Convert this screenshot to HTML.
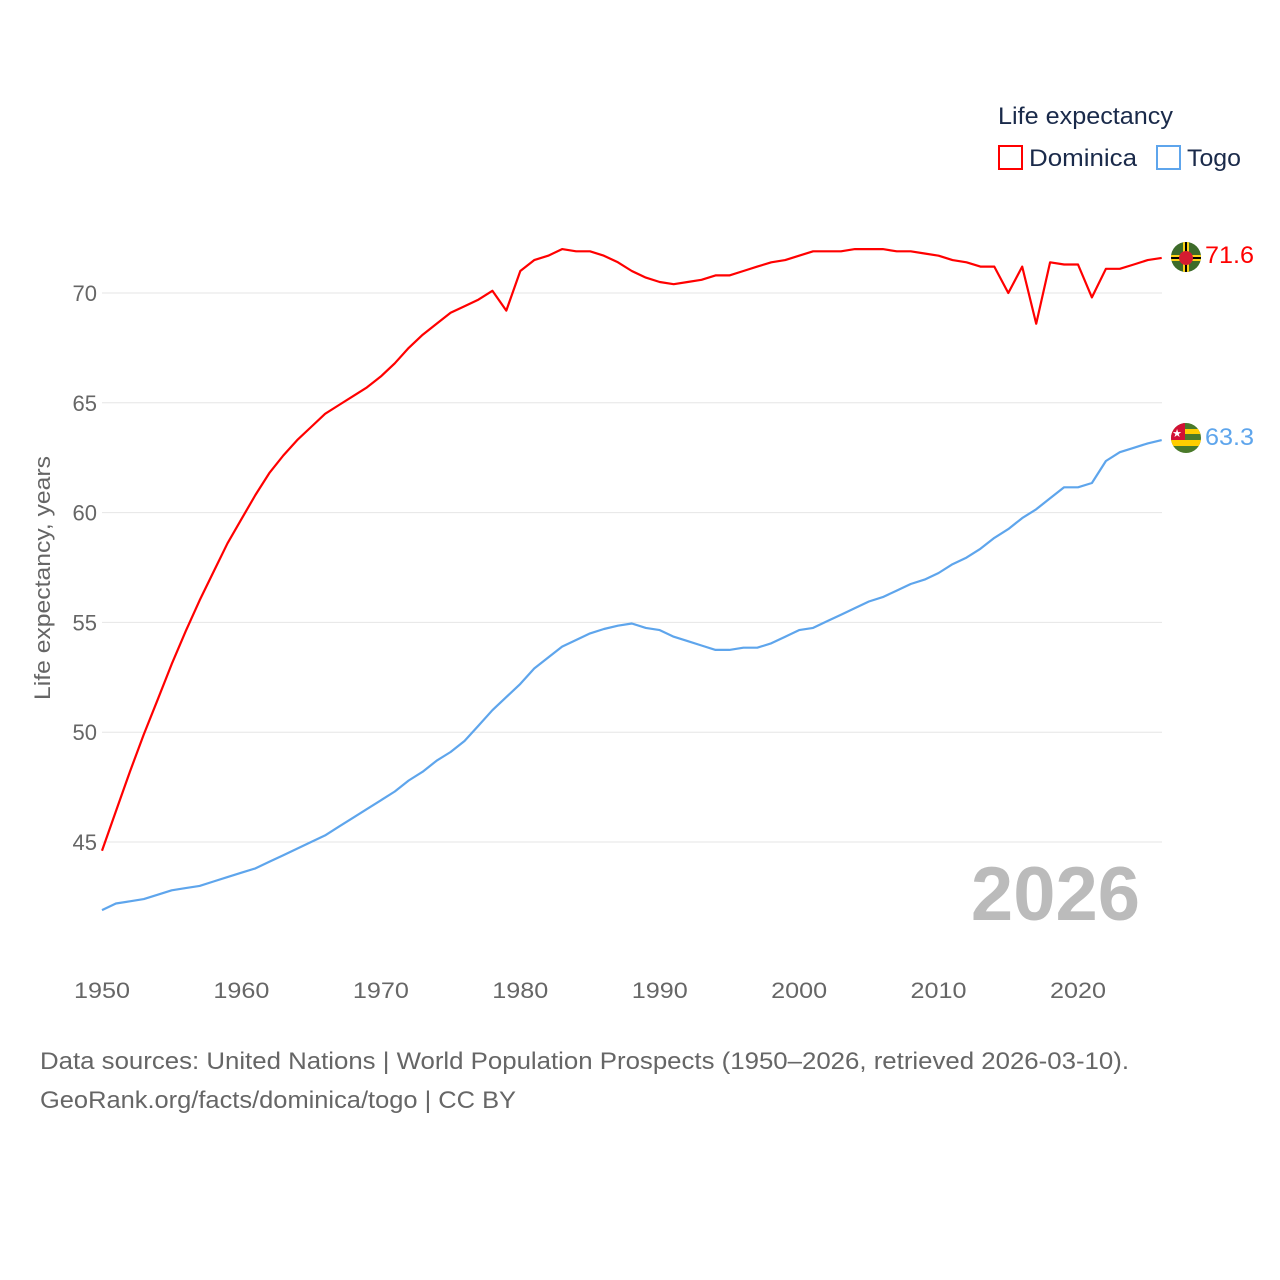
<!DOCTYPE html>
<html><head><meta charset="utf-8"><style>
body{margin:0;background:#fff;}
svg{display:block;font-family:"Liberation Sans",sans-serif;}
</style></head><body>
<svg id="chart" width="1280" height="1280" viewBox="0 0 1280 1280">
<defs>
<clipPath id="c1"><circle cx="1186" cy="257" r="15"/></clipPath>
<clipPath id="c2"><circle cx="1186" cy="438" r="15"/></clipPath>
</defs>
<g id="grid"></g>
<g id="yticks"></g>
<g id="xticks"></g>
<text x="50" y="578" transform="rotate(-90 50 578)" text-anchor="middle" font-size="22" fill="#666" textLength="244" lengthAdjust="spacingAndGlyphs">Life expectancy, years</text>
<text x="1140" y="920" text-anchor="end" font-size="76" font-weight="bold" fill="#bbb">2026</text>
<g id="series"></g>
<g>
<text x="998" y="124" font-size="24" fill="#1a2a4a" textLength="175" lengthAdjust="spacingAndGlyphs">Life expectancy</text>
<g><rect x="999" y="146" width="23" height="23" fill="none" stroke="#f00" stroke-width="2"/><text x="1029" y="166" font-size="24" fill="#1a2a4a" textLength="108" lengthAdjust="spacingAndGlyphs">Dominica</text></g>
<g><rect x="1157" y="146" width="23" height="23" fill="none" stroke="#5ea5ec" stroke-width="2"/><text x="1187" y="166" font-size="24" fill="#1a2a4a" textLength="54" lengthAdjust="spacingAndGlyphs">Togo</text></g>
</g>
<g clip-path="url(#c1)">
<rect x="1170" y="241" width="32" height="32" fill="#3d6b2a"/>
<rect x="1183" y="241" width="6" height="32" fill="#fcd116"/><rect x="1185" y="241" width="2" height="32" fill="#000"/>
<rect x="1170" y="255" width="32" height="6" fill="#fcd116"/><rect x="1170" y="257" width="32" height="2" fill="#000"/>
<circle cx="1186" cy="258" r="7" fill="#d41c30"/>
</g>
<g clip-path="url(#c2)">
<rect x="1170" y="422" width="32" height="32" fill="#4a7a2a"/>
<rect x="1170" y="429" width="32" height="5" fill="#ffce00"/><rect x="1170" y="440" width="32" height="6" fill="#ffce00"/>
<rect x="1170" y="422" width="15" height="18" fill="#d21034"/>
<text x="1177" y="437" font-size="11" fill="#fff" text-anchor="middle">★</text>
</g>
<text x="1205" y="263" font-size="24" fill="#f00" textLength="49" lengthAdjust="spacingAndGlyphs">71.6</text>
<text x="1205" y="445" font-size="24" fill="#5ea5ec" textLength="49" lengthAdjust="spacingAndGlyphs">63.3</text>
<text x="40" y="1069" font-size="24" fill="#666" textLength="1089" lengthAdjust="spacingAndGlyphs">Data sources: United Nations | World Population Prospects (1950–2026, retrieved 2026-03-10).</text>
<text x="40" y="1108" font-size="24" fill="#666" textLength="476" lengthAdjust="spacingAndGlyphs">GeoRank.org/facts/dominica/togo | CC BY</text>
</svg>
<script>
const startYear = 1950;
const dominica = [44.6,46.4,48.2,49.9,51.5,53.1,54.6,56.0,57.3,58.6,59.7,60.8,61.8,62.6,63.3,63.9,64.5,64.9,65.3,65.7,66.2,66.8,67.5,68.1,68.6,69.1,69.4,69.7,70.1,69.2,71.0,71.5,71.7,72.0,71.9,71.9,71.7,71.4,71.0,70.7,70.5,70.4,70.5,70.6,70.8,70.8,71.0,71.2,71.4,71.5,71.7,71.9,71.9,71.9,72.0,72.0,72.0,71.9,71.9,71.8,71.7,71.5,71.4,71.2,71.2,70.0,71.2,68.6,71.4,71.3,71.3,69.8,71.1,71.1,71.3,71.5,71.6];
const togo = [41.9,42.2,42.3,42.4,42.6,42.8,42.9,43.0,43.2,43.4,43.6,43.8,44.1,44.4,44.7,45.0,45.3,45.7,46.1,46.5,46.9,47.3,47.8,48.2,48.7,49.1,49.6,50.3,51.0,51.6,52.2,52.9,53.4,53.9,54.2,54.5,54.7,54.85,54.95,54.75,54.65,54.35,54.15,53.95,53.75,53.75,53.85,53.85,54.05,54.35,54.65,54.75,55.05,55.35,55.65,55.95,56.15,56.45,56.75,56.95,57.25,57.65,57.95,58.35,58.85,59.25,59.75,60.15,60.65,61.15,61.15,61.35,62.35,62.75,62.95,63.15,63.3];
const yTicks = [45,50,55,60,65,70];
const xTicks = [1950,1960,1970,1980,1990,2000,2010,2020];
const NS='http://www.w3.org/2000/svg';
const xS = y => 102 + (y-1950)*(1078-102)/70;
const yS = v => 293 + (70-v)*(842-293)/25;
function mk(tag, attrs, parent){const e=document.createElementNS(NS,tag);for(const k in attrs)e.setAttribute(k,attrs[k]);parent.appendChild(e);return e;}
const grid=document.getElementById('grid'), yt=document.getElementById('yticks'), xt=document.getElementById('xticks'), ser=document.getElementById('series');
yTicks.forEach(v=>{
  const l=mk('line',{x1:102,x2:1162,y1:yS(v),y2:yS(v),stroke:'#e6e6e6','stroke-width':1},grid);
  
  
  const t=mk('text',{x:97,y:yS(v)+8,'text-anchor':'end','font-size':22,fill:'#666'},yt);
  t.textContent=v;
  
  
});
xTicks.forEach(v=>{
  const t=mk('text',{x:xS(v),y:998,'text-anchor':'middle','font-size':22,fill:'#666',textLength:56,lengthAdjust:'spacingAndGlyphs'},xt);
  t.textContent=v;
  
  
});
function line(data,color,name){
  const d=data.map((v,i)=>(i?'L':'M')+xS(startYear+i).toFixed(1)+','+yS(v).toFixed(1)).join('');
  const p=mk('path',{d:d,fill:'none',stroke:color,'stroke-width':2.2,'stroke-linejoin':'round'},ser);
  
  
}
line(togo,'#5ea5ec','togo-line');
line(dominica,'#f00','dominica-line');
</script>
</body></html>
